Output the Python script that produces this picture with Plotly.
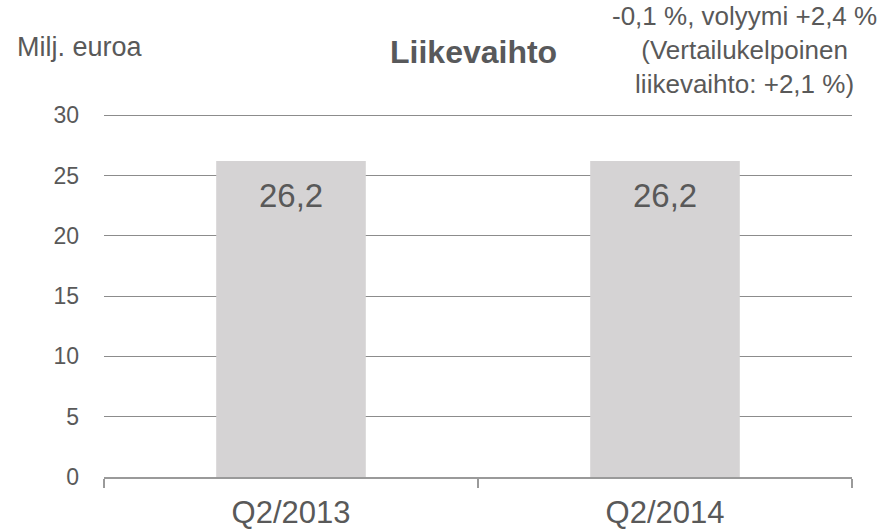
import plotly.graph_objects as go

categories = ["Q2/2013", "Q2/2014"]
values = [26.2, 26.2]
value_labels = ["26,2", "26,2"]
y_ticks = [0, 5, 10, 15, 20, 25, 30]

title_text = "Liikevaihto"
unit_text = "Milj. euroa"
note_text = "-0,1 %, volyymi +2,4 %<br>(Vertailukelpoinen<br>liikevaihto: +2,1 %)"

FONT = "Liberation Sans, Arial, sans-serif"
TXT = "#595959"

W, H = 894, 530
ML, MR, MT, MB = 104, 42, 114, 53
PW, PH = W - ML - MR, H - MT - MB


def fx(x):
    return (x - ML) / PW


def fy(y):
    return (H - MB - y) / PH


fig = go.Figure()
fig.add_trace(go.Bar(
    x=categories, y=values, width=0.4,
    marker=dict(color="#d5d3d4", line=dict(width=0)),
    hoverinfo="skip",
))

ann = []
for c, v, lab in zip(categories, values, value_labels):
    ann.append(dict(x=c, y=v, text=lab, showarrow=False, xref="x", yref="y",
                    yanchor="middle", yshift=-34,
                    font=dict(family=FONT, size=33, color=TXT)))
ann.append(dict(x=fx(15), y=fy(47), xref="paper", yref="paper", text=unit_text,
                showarrow=False, xanchor="left", yanchor="middle",
                font=dict(family=FONT, size=27, color=TXT)))
ann.append(dict(x=fx(473), y=fy(52), xref="paper", yref="paper", text="<b>" + title_text + "</b>",
                showarrow=False, xanchor="center", yanchor="middle",
                font=dict(family=FONT, size=32, color="#58595b")))
ann.append(dict(x=fx(744), y=fy(50), xref="paper", yref="paper", text=note_text,
                showarrow=False, xanchor="center", yanchor="middle", align="center",
                font=dict(family=FONT, size=26, color=TXT)))

fig.update_layout(
    width=W, height=H,
    margin=dict(l=ML, r=MR, t=MT, b=MB, autoexpand=False),
    paper_bgcolor="white", plot_bgcolor="white",
    showlegend=False,
    font=dict(family=FONT, color=TXT),
    annotations=ann,
    xaxis=dict(
        type="category", showline=True, linecolor="#9a9a9a", linewidth=1.5,
        ticks="outside", ticklen=9, tickcolor="#9a9a9a", tickwidth=1.5,
        tickson="boundaries", showgrid=False, zeroline=False,
        tickfont=dict(family=FONT, size=31, color=TXT),
        ticklabelstandoff=7,
    ),
    yaxis=dict(
        range=[0, 30.1], tickvals=y_ticks, showgrid=True, gridcolor="#8c8c8c", gridwidth=1,
        zeroline=False, showline=False, ticks="",
        tickfont=dict(family=FONT, size=23, color=TXT),
        ticklabelstandoff=24,
    ),
)

fig.write_html("out.html", config={"displayModeBar": False},
               post_script="document.body.style.margin='0';")
